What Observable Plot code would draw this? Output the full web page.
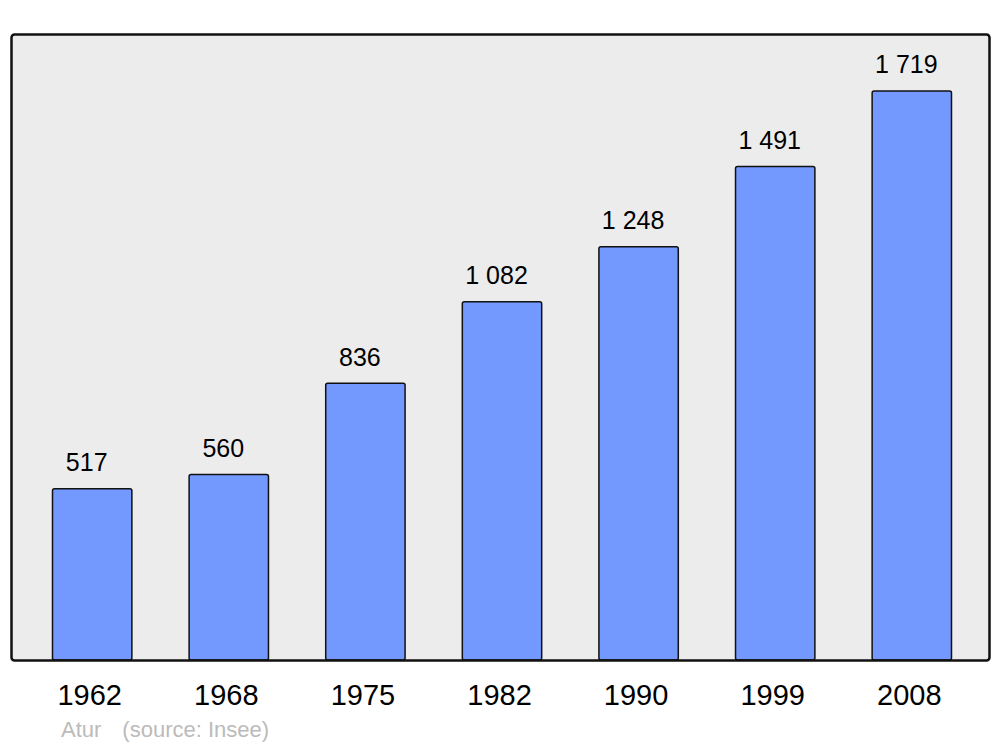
<!DOCTYPE html>
<html><head><meta charset="utf-8">
<script src="https://cdn.jsdelivr.net/npm/d3@7"></script>
<script src="https://cdn.jsdelivr.net/npm/@observablehq/plot@0.6"></script>
<style>
body{margin:0;background:#fff;font-family:"Liberation Sans",Arial,sans-serif}
#wrap{position:relative;width:1000px;height:747px}
#cap{position:absolute;left:61px;top:719px;font-size:22px;line-height:22px;color:#bbb;white-space:pre}
#cap span.src{margin-left:21px}
</style></head><body>
<div id="wrap"><div id="cap"></div></div>
<script>
const years = ["1962", "1968", "1975", "1982", "1990", "1999", "2008"];
const population = [517, 560, 836, 1082, 1248, 1491, 1719];
const captionName = "Atur";
const captionSource = "(source: Insee)";

const data = years.map((y, i) => ({year: y, pop: population[i]}));
const fmt = v => String(v).replace(/\B(?=(\d{3})+(?!\d))/g, " ");

const chart = Plot.plot({
  width: 1000,
  height: 719,
  marginTop: 34,
  marginBottom: 59,
  marginLeft: 11,
  marginRight: 11,
  style: {fontFamily: "Liberation Sans, Arial, sans-serif", background: "transparent", color: "black", overflow: "visible"},
  x: {domain: years, range: [52.5, 951.5], paddingInner: 0.419, paddingOuter: 0, round: false, label: null},
  y: {domain: [0, d3.max(population) * 1.1], axis: null},
  marks: [
    Plot.frame({fill: "#ececec", rx: 3}),
    Plot.barY(data, {x: "year", y: "pop", fill: "#7399ff", stroke: "#111", strokeWidth: 1.5, rx: 2}),
    Plot.text(data, {x: "year", y: "pop", text: d => fmt(d.pop), dy: -18, dx: -6, lineAnchor: "bottom", fontSize: 25, fill: "black"}),
    Plot.frame({stroke: "#111", strokeWidth: 2.5, rx: 3}),
    Plot.axisX({tickSize: 0, tickPadding: 24, fontSize: 29, dx: -3, label: null})
  ]
});
const wrap = document.getElementById("wrap");
wrap.insertBefore(chart, wrap.firstChild);
const cap = document.getElementById("cap");
const s1 = document.createElement("span"); s1.textContent = captionName;
const s2 = document.createElement("span"); s2.className = "src"; s2.textContent = captionSource;
cap.append(s1, s2);
</script>
</body></html>
